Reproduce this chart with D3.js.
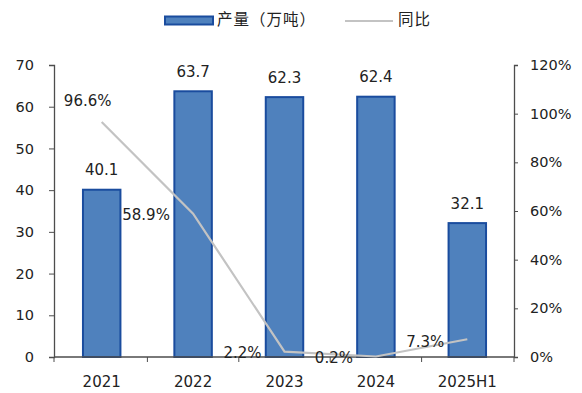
<!DOCTYPE html>
<html>
<head>
<meta charset="utf-8">
<script src="https://cdn.jsdelivr.net/npm/d3@7"></script>
<style>
  body { margin: 0; background: #fff; }
  svg text { font-family: "DejaVu Sans", Verdana, sans-serif; fill: #222; }
</style>
</head>
<body>
<div id="chart"></div>
<script>
// data
var categories = ["2021", "2022", "2023", "2024", "2025H1"];
var output = [40.1, 63.7, 62.3, 62.4, 32.1];      // 产量（万吨）
var yoy = [96.6, 58.9, 2.2, 0.2, 7.3];            // 同比 %
var leftTicks = [0, 10, 20, 30, 40, 50, 60, 70];
var rightTicks = [0, 20, 40, 60, 80, 100, 120];

// label placement for the yoy labels (dx, dy from point)
var yoyLabelOffset = [[-14, -20], [-47, 2], [-42, 2], [-42, 2], [-42, 3]];

var width = 582, height = 393;
var margin = {top: 65, right: 68, bottom: 36, left: 54};
var innerW = width - margin.left - margin.right;
var innerH = height - margin.top - margin.bottom;

var svg = d3.select("#chart").append("svg")
    .attr("width", width)
    .attr("height", height);

var g = svg.append("g")
    .attr("transform", "translate(" + margin.left + "," + margin.top + ")");

var x = d3.scaleBand().domain(categories).range([2, innerW - 1]).paddingInner(0.59).paddingOuter(0.295);
var yL = d3.scaleLinear().domain([0, 70]).range([innerH, 0]);
var yR = d3.scaleLinear().domain([0, 120]).range([innerH, 0]);
var axisColor = "#4d4d4d";

//**************************************************************************
//** axes
//**************************************************************************
var leftAxis = g.append("g")
    .call(d3.axisLeft(yL).tickValues(leftTicks).tickSize(5).tickPadding(15));
var rightAxis = g.append("g")
    .attr("transform", "translate(" + innerW + ",0)")
    .call(d3.axisRight(yR).tickValues(rightTicks).tickSize(4).tickFormat(function(d){ return d + "%"; }).tickPadding(12));

[leftAxis, rightAxis].forEach(function(a){
    a.select(".domain").attr("stroke", axisColor).attr("stroke-width", 1.3);
    a.selectAll(".tick line").attr("stroke", axisColor);
    a.selectAll("text").style("font-size", "14.5px").attr("fill", "#222");
});
// extend vertical axes slightly below baseline
g.append("line").attr("x1", 0).attr("x2", 0).attr("y1", innerH).attr("y2", innerH + 5).attr("stroke", axisColor);
g.append("line").attr("x1", innerW).attr("x2", innerW).attr("y1", innerH).attr("y2", innerH + 5).attr("stroke", axisColor);

//**************************************************************************
//** bars
//**************************************************************************
g.selectAll("rect.bar")
    .data(output)
    .enter().append("rect")
    .attr("class", "bar")
    .attr("x", function(d, i){ return x(categories[i]); })
    .attr("y", function(d){ return yL(d); })
    .attr("width", x.bandwidth())
    .attr("height", function(d){ return innerH - yL(d); })
    .attr("fill", "#4f81bd")
    .attr("stroke", "#1a4c9e")
    .attr("stroke-width", 2);

g.selectAll("text.val")
    .data(output)
    .enter().append("text")
    .attr("class", "val")
    .attr("x", function(d, i){ return x(categories[i]) + x.bandwidth() / 2; })
    .attr("y", function(d){ return yL(d) - 19; })
    .attr("text-anchor", "middle")
    .attr("dominant-baseline", "middle")
    .style("font-size", "15px")
    .text(function(d){ return d.toFixed(1); });

// x axis baseline
g.append("line")
    .attr("x1", 0).attr("x2", innerW)
    .attr("y1", innerH).attr("y2", innerH)
    .attr("stroke", axisColor).attr("stroke-width", 1.3);

// category boundary ticks
var step = x.step();
g.selectAll("line.xtick")
    .data(categories.slice(1))
    .enter().append("line")
    .attr("class", "xtick")
    .attr("x1", function(d){ return x(d) - x.paddingInner() * step / 2; })
    .attr("x2", function(d){ return x(d) - x.paddingInner() * step / 2; })
    .attr("y1", innerH).attr("y2", innerH + 5)
    .attr("stroke", axisColor);

g.selectAll("text.cat")
    .data(categories)
    .enter().append("text")
    .attr("class", "cat")
    .attr("x", function(d){ return x(d) + x.bandwidth() / 2; })
    .attr("y", innerH + 25)
    .attr("text-anchor", "middle")
    .attr("dominant-baseline", "middle")
    .style("font-size", "15px")
    .text(function(d){ return d; });

//**************************************************************************
//** yoy line
//**************************************************************************
var line = d3.line()
    .x(function(d, i){ return x(categories[i]) + x.bandwidth() / 2; })
    .y(function(d){ return yR(d); });

g.append("path")
    .datum(yoy)
    .attr("d", line)
    .attr("fill", "none")
    .attr("stroke", "#c3c3c3")
    .attr("stroke-width", 2.2);

g.selectAll("text.yoy")
    .data(yoy)
    .enter().append("text")
    .attr("class", "yoy")
    .attr("x", function(d, i){ return x(categories[i]) + x.bandwidth() / 2 + yoyLabelOffset[i][0]; })
    .attr("y", function(d, i){ return yR(d) + yoyLabelOffset[i][1]; })
    .attr("text-anchor", "middle")
    .attr("dominant-baseline", "middle")
    .style("font-size", "15px")
    .text(function(d){ return d.toFixed(1) + "%"; });

//**************************************************************************
//** legend
//**************************************************************************
var legend = svg.append("g");
legend.append("rect")
    .attr("x", 165).attr("y", 16.5).attr("width", 48).attr("height", 8)
    .attr("fill", "#4f81bd").attr("stroke", "#1a4c9e").attr("stroke-width", 2);
legend.append("text")
    .attr("x", 217).attr("y", 21)
    .attr("dominant-baseline", "middle")
    .style("font-family", "'Noto Sans CJK SC', sans-serif")
    .style("font-size", "15.5px")
    .style("letter-spacing", "1px")
    .text("产量（万吨）");
legend.append("line")
    .attr("x1", 345).attr("x2", 393).attr("y1", 21).attr("y2", 21)
    .attr("stroke", "#c3c3c3").attr("stroke-width", 2);
legend.append("text")
    .attr("x", 398).attr("y", 21)
    .attr("dominant-baseline", "middle")
    .style("font-family", "'Noto Sans CJK SC', sans-serif")
    .style("font-size", "15.5px")
    .style("letter-spacing", "1px")
    .text("同比");
</script>
</body>
</html>
